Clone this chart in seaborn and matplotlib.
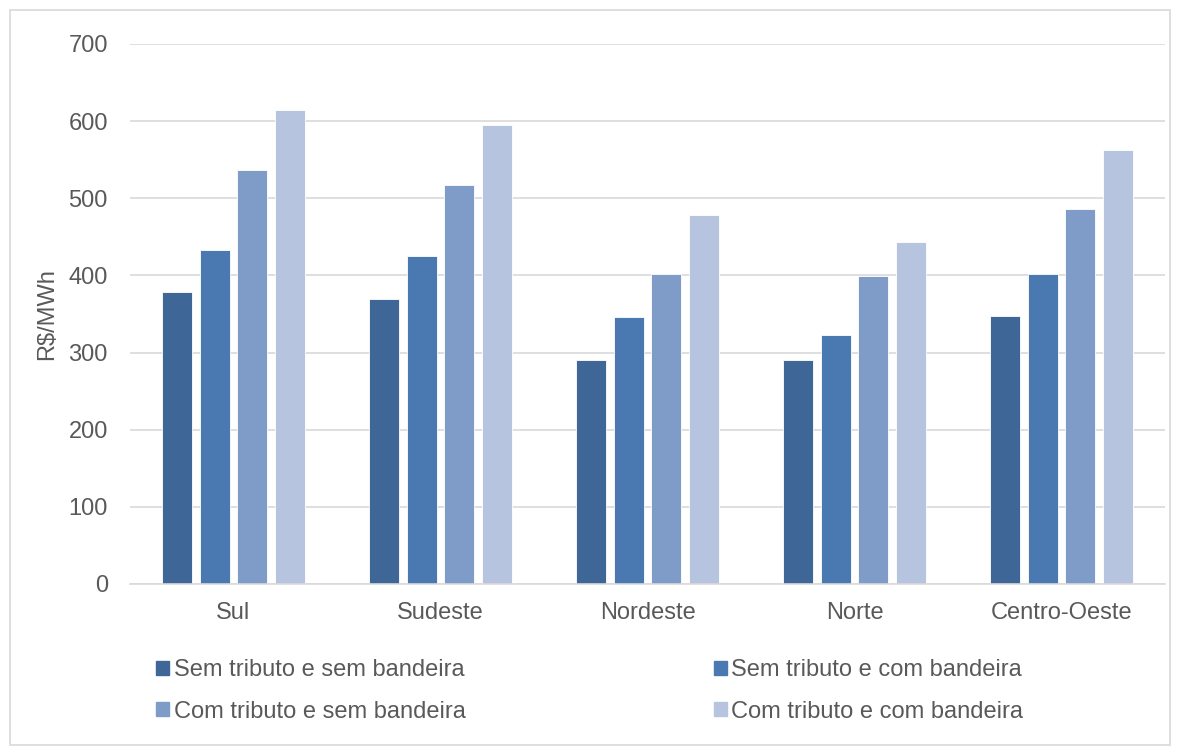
import pandas as pd
import seaborn as sns
import matplotlib.pyplot as plt
from matplotlib.patches import Rectangle

regioes = ["Sul", "Sudeste", "Nordeste", "Norte", "Centro-Oeste"]
series = ["Sem tributo e sem bandeira", "Sem tributo e com bandeira",
          "Com tributo e sem bandeira", "Com tributo e com bandeira"]
sem_trib_sem_band = [378, 370, 291, 291, 347]
sem_trib_com_band = [433, 425, 346, 323, 402]
com_trib_sem_band = [537, 517, 402, 399, 486]
com_trib_com_band = [615, 595, 478, 443, 563]
cores = ["#3E6696", "#4A78B0", "#7F9CC8", "#B6C4DF"]

df = pd.DataFrame({
    "regiao": regioes * 4,
    "serie": [s for s in series for _ in regioes],
    "valor": sem_trib_sem_band + sem_trib_com_band + com_trib_sem_band + com_trib_com_band,
})

sns.set_style("white")
plt.rcParams["font.family"] = ["Liberation Sans", "DejaVu Sans"]
txt = "#595959"
fs = 17

fig = plt.figure(figsize=(11.82, 7.52), dpi=100)
ax = fig.add_axes([130 / 1182, 1 - 584 / 752, 1035 / 1182, 540 / 752])

sns.barplot(data=df, x="regiao", y="valor", hue="serie", hue_order=series,
            palette=cores, saturation=1, width=0.73, gap=0.2, ax=ax,
            legend=False, edgecolor="white", linewidth=0.6)

ax.set_ylim(0, 700)
ax.set_yticks(range(0, 701, 100))
ax.yaxis.grid(True, color="#D9D9D9", linewidth=1.2)
ax.set_axisbelow(True)
for s in ["top", "right", "left"]:
    ax.spines[s].set_visible(False)
ax.spines["bottom"].set_color("#D9D9D9")
ax.spines["bottom"].set_linewidth(1.2)
ax.tick_params(axis="both", length=0, labelsize=fs, colors=txt)
ax.tick_params(axis="y", pad=16)
ax.tick_params(axis="x", pad=13)
ax.set_xlabel("")
ax.set_ylabel("R$/MWh", fontsize=fs, color=txt)
ax.yaxis.set_label_coords(-72 / 1035, 0.5)

# legend, filled row by row like the original
ordem = [0, 2, 1, 3]
handles = [Rectangle((0, 0), 1, 1, color=cores[i]) for i in ordem]
labels = [series[i] for i in ordem]
leg = fig.legend(handles, labels, ncol=2, loc="upper left",
                 bbox_to_anchor=(135 / 1182, 1 - 638 / 752), frameon=False,
                 fontsize=fs, handlelength=0.55, handleheight=0.55,
                 handletextpad=0.2, columnspacing=10.5, labelspacing=0.82)
for t in leg.get_texts():
    t.set_color(txt)

# outer border
fig.patches.append(Rectangle((10 / 1182, 7 / 752), 1160 / 1182, 735 / 752,
                             transform=fig.transFigure, fill=False,
                             edgecolor="#D9D9D9", linewidth=1.2))

fig.savefig("out.png", dpi=100)
